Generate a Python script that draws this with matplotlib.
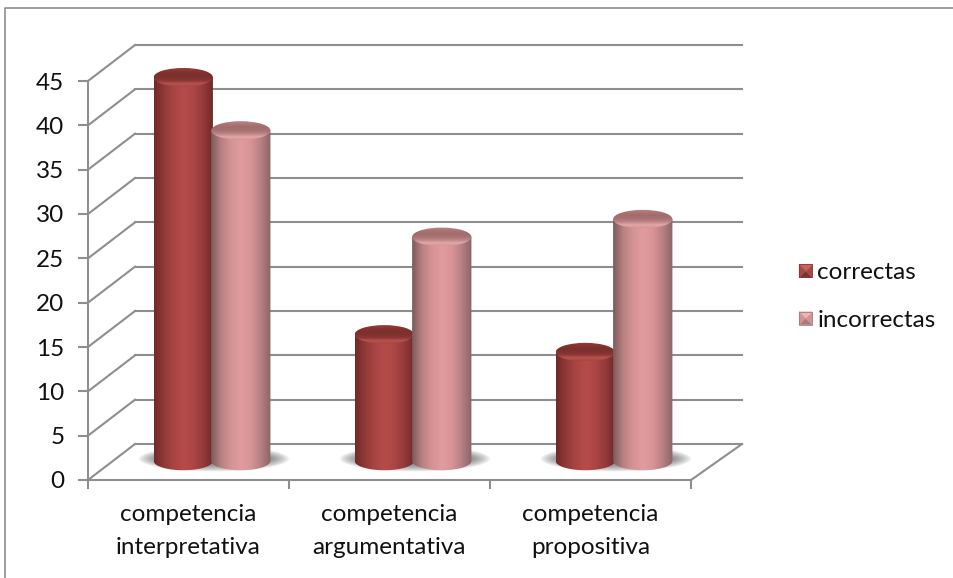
import matplotlib
matplotlib.use("Agg")
import matplotlib.pyplot as plt
import numpy as np
from matplotlib.colors import LinearSegmentedColormap
from matplotlib.legend_handler import HandlerBase
from matplotlib.lines import Line2D
from matplotlib.patches import Ellipse, PathPatch, Polygon, Rectangle
from matplotlib.path import Path

categories = ["competencia\ninterpretativa", "competencia\nargumentativa", "competencia\npropositiva"]
correctas = [44, 15, 13]
incorrectas = [38, 26, 28]
y_ticks = [0, 5, 10, 15, 20, 25, 30, 35, 40, 45]

plt.rcParams["font.family"] = ["Lato", "DejaVu Sans"]

GREY = "#8e8e8e"
FS = 17.5
# 3d wall offset and cylinder sizes, in axis units
DEPTH_X = 0.234
DEPTH_Y = 4.06
RIGHT_END = 3 + DEPTH_X + 0.02
BAR_W = 0.295
ELL_H = 2.1
BASE_Y = 2.15
TOP_Y = 1.42

fig = plt.figure(figsize=(9.54, 5.78), dpi=100)
ax = fig.add_axes([88 / 954, 98 / 578, 603 / 954, 399 / 578])
ax.patch.set_visible(False)

body_red = LinearSegmentedColormap.from_list("body_red", ["#6f2a29", "#913a38", "#a84543", "#b54c4a", "#ab4644", "#93393a", "#6b2827"])
body_pink = LinearSegmentedColormap.from_list("body_pink", ["#7d5b5b", "#b98182", "#d59394", "#e09c9e", "#d89496", "#b78082", "#8a6465"])
top_red = LinearSegmentedColormap.from_list("top_red", ["#97403e", "#87332f", "#7c2f2d", "#7f312f", "#8a3735", "#b9534f", "#a8433f"])
top_pink = LinearSegmentedColormap.from_list("top_pink", ["#c08686", "#ad7474", "#a26c6c", "#a87272", "#b88484", "#e2a6a6", "#d89496"])


def walls():
    for v in y_ticks:
        ax.plot([0, DEPTH_X], [v, v + DEPTH_Y], color=GREY, lw=1.5, clip_on=False, zorder=1)
        ax.plot([DEPTH_X, RIGHT_END], [v + DEPTH_Y] * 2, color=GREY, lw=1.5, clip_on=False, zorder=1)
    ax.plot([3, RIGHT_END], [0, DEPTH_Y], color=GREY, lw=1.5, clip_on=False, zorder=1)


def shadow(xc):
    # soft floor shadow under one pair of bars
    for i in range(18):
        ax.add_patch(Ellipse((xc, BASE_Y + 0.25), 0.75 - i * 0.012, 2.9 - i * 0.1, fc="#4a4a4a", ec="none", alpha=0.05, zorder=2))


def cylinder(xc, value, body_cmap, top_cmap, z):
    x0, x1 = xc - BAR_W / 2, xc + BAR_W / 2
    top = value + TOP_Y
    t = np.linspace(np.pi, 2 * np.pi, 40)
    xs = xc + BAR_W / 2 * np.cos(t)
    ys = BASE_Y + ELL_H / 2 * np.sin(t)
    verts = [(x0, top)] + list(zip(xs, ys)) + [(x1, top), (x0, top)]
    clip = PathPatch(Path(verts), transform=ax.transData)
    im = ax.imshow(np.linspace(0, 1, 128)[None, :], extent=(x0, x1, BASE_Y - ELL_H, top), cmap=body_cmap,
                   aspect="auto", zorder=z, interpolation="bilinear")
    im.set_clip_box(fig.bbox)
    im.set_clip_path(clip)
    # top cap
    cap = Ellipse((xc, top), BAR_W, ELL_H, transform=ax.transData)
    im2 = ax.imshow(np.linspace(0, 1, 64)[:, None], extent=(x0, x1, top - ELL_H / 2, top + ELL_H / 2), cmap=top_cmap,
                    aspect="auto", zorder=z + 0.1, interpolation="bilinear")
    im2.set_clip_box(fig.bbox)
    im2.set_clip_path(cap)


walls()
for i in range(len(categories)):
    xc = i + 0.5 + DEPTH_X / 2
    shadow(xc + 0.01)
    cylinder(xc - 0.143, correctas[i], body_red, top_red, 3 + i)
    cylinder(xc + 0.143, incorrectas[i], body_pink, top_pink, 3.5 + i)

ax.set_xlim(0, 3)
ax.set_ylim(0, 45)
for side in ["top", "right"]:
    ax.spines[side].set_visible(False)
for side in ["left", "bottom"]:
    ax.spines[side].set_color(GREY)
    ax.spines[side].set_linewidth(1.5)
ax.set_yticks(y_ticks)
ax.set_xticks([0, 1, 2, 3])
ax.set_xticklabels([])
ax.set_xticks([0.5, 1.5, 2.5], minor=True)
ax.set_xticklabels(categories, minor=True, fontsize=FS, color="#111111", linespacing=1.72)
ax.tick_params(axis="x", which="major", length=6.5, width=1.5, color=GREY)
ax.tick_params(axis="x", which="minor", length=0, pad=17)
ax.tick_params(axis="y", length=7, width=1.5, color=GREY, pad=10, labelsize=FS, labelcolor="#111111")


class BevelHandler(HandlerBase):
    # small bevelled square like the office legend key
    def __init__(self, cols):
        super().__init__()
        self.cols = cols

    def create_artists(self, legend, orig, xd, yd, w, h, fontsize, trans):
        s = 13 * 0.72
        x0, y0 = -xd + w - s, -yd + (h - s) / 2
        c = (x0 + s / 2, y0 + s / 2)
        corners = [(x0, y0), (x0 + s, y0), (x0 + s, y0 + s), (x0, y0 + s)]
        arts = []
        for j, col in enumerate(self.cols):
            arts.append(Polygon([corners[j], corners[(j + 1) % 4], c], fc=col, ec=col, lw=0.3, transform=trans))
        arts.append(Rectangle((x0, y0), s, s, fc="none", ec=self.cols[0], lw=0.6, transform=trans))
        return arts


h1 = Line2D([], [], label="correctas")
h2 = Line2D([], [], label="incorrectas")
fig.legend(handles=[h1, h2], loc="upper left", bbox_to_anchor=(772 / 954, 1 - 243 / 578), frameon=False,
           fontsize=FS, labelcolor="#111111", handlelength=0.85, handletextpad=0.22, labelspacing=1.08, borderpad=0.3,
           handler_map={h1: BevelHandler(["#7f3231", "#a84644", "#c9605c", "#a84644"]),
                        h2: BevelHandler(["#a87a7a", "#cf9495", "#ecb6b6", "#cf9495"])})

# outer chart frame, cut by the image on the right and below
fig.add_artist(Line2D([5 / 954, 5 / 954, 1], [0, 1 - 8 / 578, 1 - 8 / 578], color=GREY, lw=1.2))

fig.savefig("out.png", dpi=100)
